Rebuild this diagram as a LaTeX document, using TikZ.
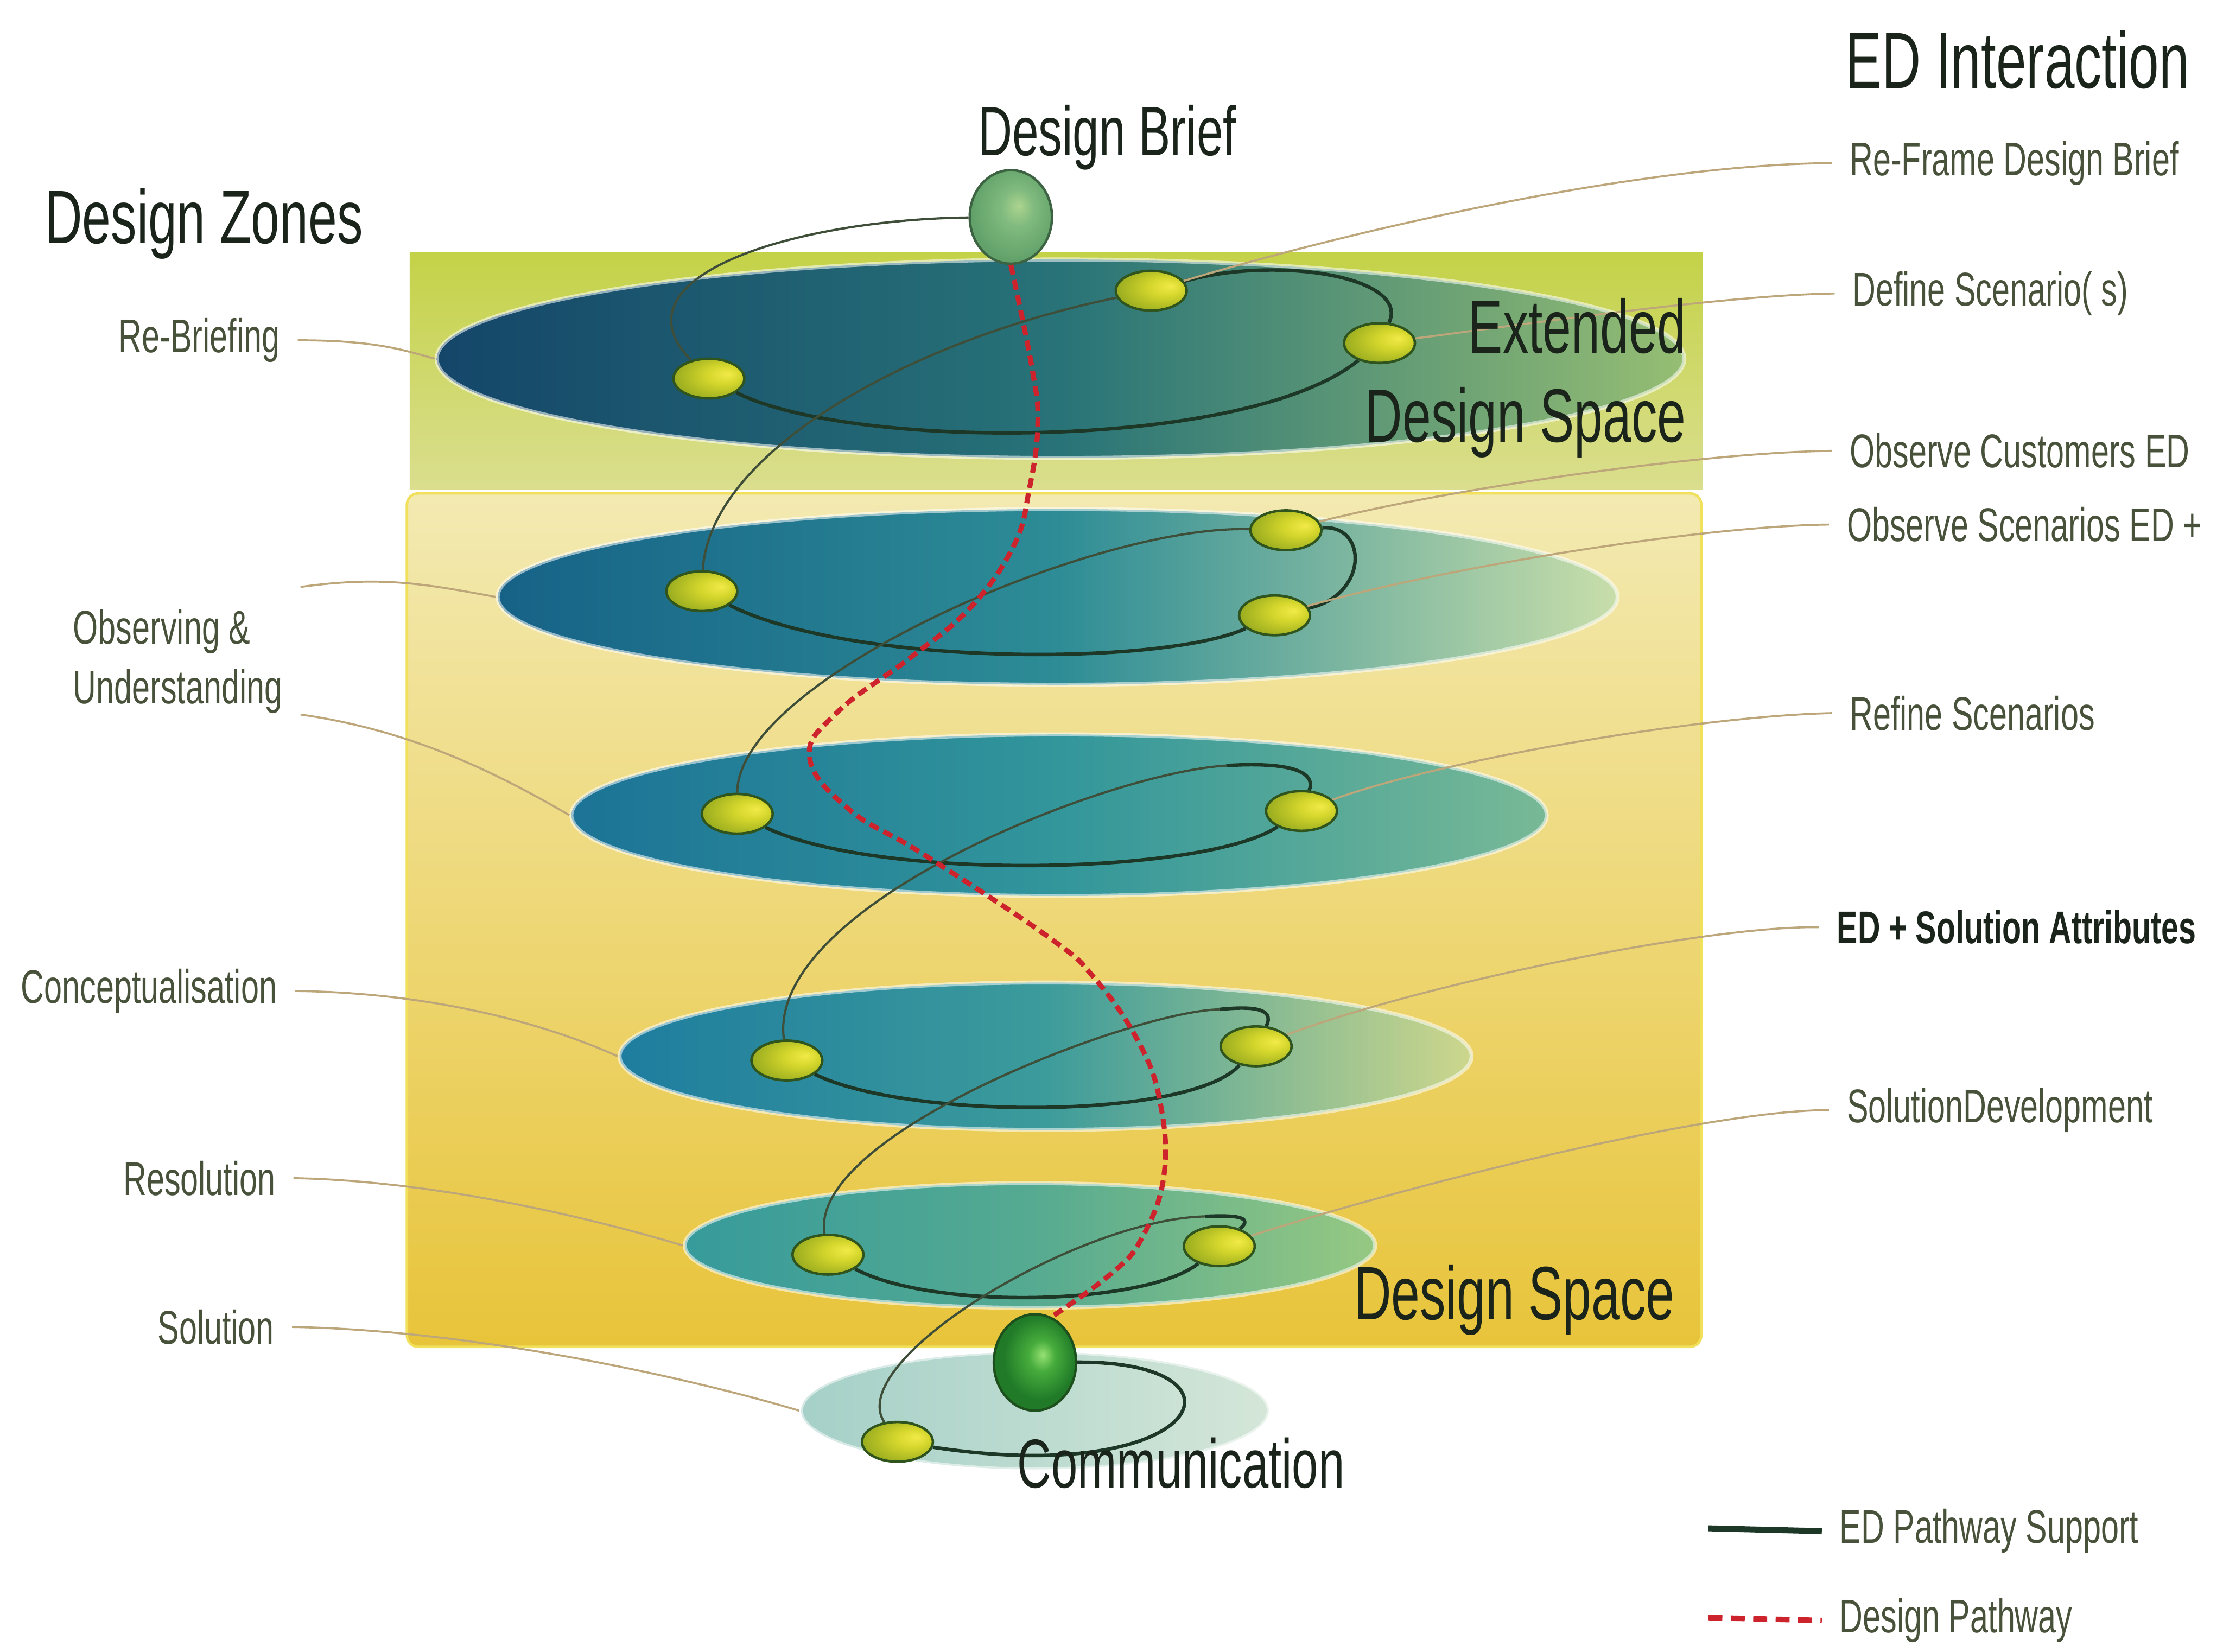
\documentclass[tikz,border=0pt]{standalone}
\usepackage{fontspec}
\setmainfont{Liberation Sans}[FakeStretch=0.68]
\usetikzlibrary{shapes.geometric}

\definecolor{inkgrey}{RGB}{72,82,58}
\definecolor{inkdark}{RGB}{26,36,26}
\definecolor{leadertan}{RGB}{188,166,122}
\definecolor{supportgreen}{RGB}{30,56,40}
\definecolor{pathred}{RGB}{205,35,45}
\definecolor{bandtop}{RGB}{196,210,72}
\definecolor{bandtopl}{RGB}{218,222,142}
\definecolor{bandlow}{RGB}{243,234,178}
\definecolor{bandlowd}{RGB}{232,196,58}
\definecolor{bandedge}{RGB}{240,224,90}
\definecolor{ballhi}{RGB}{242,234,72}
\definecolor{ballmid}{RGB}{212,214,44}
\definecolor{ballrim}{RGB}{148,168,30}
\definecolor{ballline}{RGB}{48,84,30}
\definecolor{briefhi}{RGB}{172,212,142}
\definecolor{briefmid}{RGB}{128,186,126}
\definecolor{briefrim}{RGB}{98,162,106}
\definecolor{hubhi}{RGB}{150,225,115}
\definecolor{hubmid}{RGB}{70,172,60}
\definecolor{hubrim}{RGB}{32,122,40}

\pgfdeclareradialshading{edball}{\pgfpoint{14bp}{6bp}}{color(0bp)=(ballhi); color(12bp)=(ballmid); color(32bp)=(ballrim); color(50bp)=(ballrim)}
\pgfdeclareradialshading{briefball}{\pgfpoint{5bp}{6bp}}{color(0bp)=(briefhi); color(10bp)=(briefmid); color(26bp)=(briefrim); color(50bp)=(briefrim)}
\pgfdeclareradialshading{hubball}{\pgfpoint{5bp}{4bp}}{color(0bp)=(hubhi); color(8bp)=(hubmid); color(22bp)=(hubrim); color(50bp)=(hubrim)}

\begin{document}
\begin{tikzpicture}[
    lbl/.style={text=inkgrey, font=\fontsize{9.5}{12}\selectfont, inner xsep=1.2mm, inner ysep=0pt},
    title/.style={text=inkdark, font=\fontsize{15.2}{18}\selectfont, inner sep=0pt},
    disc/.style={ellipse, inner sep=0pt, draw=white, draw opacity=0.55, line width=0.8pt},
    ednode/.style={ellipse, minimum width=0.50cm, minimum height=0.28cm, inner sep=0pt, shading=edball, draw=ballline, line width=0.5pt},
    hubnode/.style={ellipse, minimum width=0.58cm, minimum height=0.66cm, inner sep=0pt, line width=0.5pt},
    support/.style={draw=supportgreen, line width=0.7pt},
    link/.style={draw=supportgreen!80!leadertan, line width=0.45pt},
    pathway/.style={draw=pathred, line width=1pt, dash pattern=on 2pt off 1.1pt},
    leader/.style={draw=leadertan, line width=0.4pt}
  ]
    \useasboundingbox (0,0) rectangle (15.68,-11.65);
    \fill[white] (0,0) rectangle (15.68,-11.65);

    % design zones
    \shade[top color=bandtop, bottom color=bandtopl] (2.89,-1.78) rectangle (12.01,-3.45);
    \shade[top color=bandlow, bottom color=bandlowd, draw=bandedge, line width=0.5pt, rounded corners=0.08cm] (2.87,-3.48) rectangle (12.00,-9.50);

    \node[disc, minimum width=8.80cm, minimum height=1.40cm, left color={rgb,255:red,20;green,70;blue,105}, right color={rgb,255:red,150;green,190;blue,115}, middle color={rgb,255:red,40;green,115;blue,120}] (d1) at (7.48,-2.53) {};
    \node[disc, minimum width=7.90cm, minimum height=1.24cm, left color={rgb,255:red,22;green,98;blue,135}, right color={rgb,255:red,200;green,222;blue,170}, middle color={rgb,255:red,45;green,140;blue,150}] (d2) at (7.46,-4.21) {};
    \node[disc, minimum width=6.88cm, minimum height=1.14cm, left color={rgb,255:red,28;green,115;blue,150}, right color={rgb,255:red,120;green,185;blue,150}, middle color={rgb,255:red,50;green,150;blue,155}] (d3) at (7.47,-5.75) {};
    \node[disc, minimum width=6.01cm, minimum height=1.04cm, left color={rgb,255:red,30;green,125;blue,158}, right color={rgb,255:red,205;green,215;blue,140}, middle color={rgb,255:red,60;green,155;blue,155}] (d4) at (7.375,-7.45) {};
    \node[disc, minimum width=4.87cm, minimum height=0.88cm, left color={rgb,255:red,55;green,155;blue,155}, right color={rgb,255:red,150;green,200;blue,130}, middle color={rgb,255:red,85;green,170;blue,145}] (d5) at (7.265,-8.785) {};
    \node[disc, minimum width=3.30cm, minimum height=0.83cm, left color={rgb,255:red,165;green,208;blue,200}, right color={rgb,255:red,212;green,230;blue,216}] (d6) at (7.30,-9.95) {};

    % interaction points
    \node[hubnode, shading=briefball, draw={rgb,255:red,60;green,100;blue,66}] (brief) at (7.13,-1.53) {};
    \node[hubnode, shading=hubball, draw={rgb,255:red,30;green,80;blue,30}, minimum height=0.68cm] (hub) at (7.30,-9.61) {};
    \node[ednode] (r1a) at (5.00,-2.67) {};
    \node[ednode] (r1b) at (8.12,-2.05) {};
    \node[ednode] (r1c) at (9.73,-2.42) {};
    \node[ednode] (r2a) at (4.95,-4.17) {};
    \node[ednode] (r2b) at (9.07,-3.74) {};
    \node[ednode] (r2c) at (8.99,-4.34) {};
    \node[ednode] (r3a) at (5.20,-5.74) {};
    \node[ednode] (r3b) at (9.18,-5.72) {};
    \node[ednode] (r4a) at (5.55,-7.48) {};
    \node[ednode] (r4b) at (8.86,-7.38) {};
    \node[ednode] (r5a) at (5.84,-8.85) {};
    \node[ednode] (r5b) at (8.60,-8.79) {};
    \node[ednode] (r6a) at (6.33,-10.17) {};
    \coordinate (k3) at (8.65,-5.40);
    \coordinate (k4) at (8.60,-7.12);
    \coordinate (k5) at (8.50,-8.58);

    % ED pathway support
    \draw[link] (brief) .. controls (5.60,-1.55) and (4.30,-1.95) .. (r1a);
    \draw[support] (r1a) .. controls (6.00,-3.18) and (8.80,-3.18) .. (r1c);
    \draw[support] (r1c) .. controls (9.95,-1.95) and (9.00,-1.80) .. (r1b);
    \draw[link] (r1b) .. controls (6.40,-2.40) and (5.00,-3.20) .. (r2a);
    \draw[support] (r2a) .. controls (6.00,-4.70) and (8.20,-4.70) .. (r2c);
    \draw[support] (r2c) .. controls (9.65,-4.20) and (9.65,-3.70) .. (r2b);
    \draw[link] (r2b) .. controls (7.70,-3.70) and (5.20,-4.80) .. (r3a);
    \draw[support] (r3a) .. controls (6.20,-6.22) and (8.50,-6.17) .. (r3b);
    \draw[support] (r3b) .. controls (9.30,-5.40) and (8.95,-5.38) .. (k3);
    \draw[link] (k3) .. controls (7.80,-5.45) and (5.40,-6.40) .. (r4a);
    \draw[support] (r4a) .. controls (6.40,-7.90) and (8.40,-7.90) .. (r4b);
    \draw[support] (r4b) .. controls (9.00,-7.10) and (8.80,-7.10) .. (k4);
    \draw[link] (k4) .. controls (8.00,-7.13) and (5.70,-8.00) .. (r5a);
    \draw[support] (r5a) .. controls (6.60,-9.25) and (8.10,-9.20) .. (r5b);
    \draw[support] (r5b) .. controls (8.85,-8.58) and (8.70,-8.57) .. (k5);
    \draw[link] (k5) .. controls (7.60,-8.60) and (5.95,-9.60) .. (r6a);
    \draw[support] (r6a) .. controls (8.50,-10.50) and (8.90,-9.60) .. (hub);

    % design pathway
    \draw[pathway] plot[smooth, tension=0.7] coordinates {(brief.south) (7.28,-2.60) (7.32,-3.00) (7.26,-3.45) (7.15,-3.85) (6.84,-4.29) (6.42,-4.64) (5.91,-5.02) (5.71,-5.34) (5.99,-5.71) (6.52,-6.03) (7.41,-6.62) (7.72,-6.90) (8.02,-7.33) (8.18,-7.76) (8.21,-8.29) (8.05,-8.74) (7.83,-8.99) (hub.70)};

    % zone labels
    \node[lbl, anchor=east] (rebrief) at (2.10,-2.40) {Re-Briefing};
    \coordinate (blank) at (2.12,-4.14);
    \node[lbl, anchor=south east, align=left] (observe) at (2.12,-5.04) {Observing \&\\Understanding};
    \node[lbl, anchor=east] (concept) at (2.08,-6.99) {Conceptualisation};
    \node[lbl, anchor=east] (resol) at (2.07,-8.31) {Resolution};
    \node[lbl, anchor=east] (solut) at (2.06,-9.36) {Solution};
    \draw[leader] (rebrief.east) .. controls (2.65,-2.40) and (2.85,-2.47) .. (d1.west);
    \draw[leader] (blank) .. controls (2.70,-4.06) and (3.00,-4.12) .. (d2.west);
    \draw[leader] (observe.south east) .. controls (2.90,-5.15) and (3.50,-5.45) .. (d3.west);
    \draw[leader] (concept.east) .. controls (3.00,-7.00) and (3.80,-7.20) .. (d4.west);
    \draw[leader] (resol.east) .. controls (3.10,-8.33) and (4.20,-8.60) .. (d5.west);
    \draw[leader] (solut.east) .. controls (3.30,-9.38) and (4.80,-9.70) .. (d6.west);

    % interaction labels
    \node[lbl, anchor=west] (reframe) at (12.92,-1.15) {Re-Frame Design Brief};
    \node[lbl, anchor=west] (define) at (12.94,-2.07) {Define Scenario( s)};
    \node[lbl, anchor=west] (obscust) at (12.92,-3.18) {Observe Customers ED};
    \node[lbl, anchor=west] (obsscen) at (12.90,-3.70) {Observe Scenarios ED +};
    \node[lbl, anchor=west] (refine) at (12.92,-5.03) {Refine Scenarios};
    \node[lbl, anchor=west, font=\fontsize{9.2}{12}\selectfont\bfseries, text=inkdark] (attrib) at (12.83,-6.54) {ED + Solution Attributes};
    \node[lbl, anchor=west] (soldev) at (12.90,-7.83) {SolutionDevelopment};
    \draw[leader] (reframe.west) .. controls (11.60,-1.16) and (9.62,-1.60) .. (r1b);
    \draw[leader] (define.west) .. controls (12.20,-2.08) and (10.80,-2.28) .. (r1c);
    \draw[leader] (obscust.west) .. controls (12.00,-3.19) and (10.20,-3.45) .. (r2b);
    \draw[leader] (obsscen.west) .. controls (12.00,-3.71) and (10.20,-4.00) .. (r2c);
    \draw[leader] (refine.west) .. controls (12.00,-5.05) and (10.20,-5.35) .. (r3b);
    \draw[leader] (attrib.west) .. controls (12.00,-6.53) and (10.00,-6.95) .. (r4b);
    \draw[leader] (soldev.west) .. controls (12.00,-7.83) and (9.80,-8.40) .. (r5b);

    % headings
    \node[title, font=\fontsize{16}{18}\selectfont] (edint) at (14.23,-0.42) {ED Interaction};
    \node[title] (zones) at (1.44,-1.58) {Design Zones};
    \node[title, font=\fontsize{14}{16}\selectfont] (brieftext) at (7.81,-0.97) {Design Brief};
    \node[title, anchor=east] (ext) at (11.90,-2.30) {Extended};
    \node[title, anchor=east] (extspace) at (11.90,-2.98) {Design Space};
    \node[title, anchor=east] (space) at (11.82,-9.17) {Design Space};
    \node[title, font=\fontsize{13.9}{17}\selectfont] (comm) at (8.33,-10.32) {Communication};

    % legend
    \coordinate (lgs) at (12.05,-10.78);
    \coordinate (lgp) at (12.05,-11.41);
    \node[lbl, anchor=west] (lgsupport) at (12.85,-10.80) {ED Pathway Support};
    \node[lbl, anchor=west] (lgpath) at (12.85,-11.43) {Design Pathway};
    \draw[draw=supportgreen, line width=1.2pt] (lgs) -- (lgsupport.west);
    \draw[draw=pathred, line width=1.1pt, dash pattern=on 2.8pt off 1.7pt] (lgp) -- (lgpath.west);
  \end{tikzpicture}
\end{document}
